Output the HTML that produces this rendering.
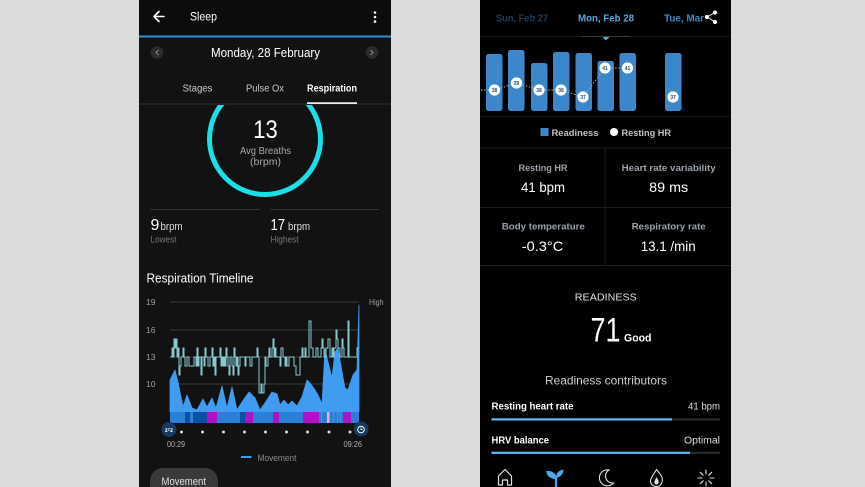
<!DOCTYPE html>
<html><head><meta charset="utf-8"><style>
html,body{margin:0;padding:0;background:#dcdcdc;}
svg{display:block;font-family:"Liberation Sans",sans-serif;}
</style></head><body>
<svg width="865" height="487" viewBox="0 0 865 487" xmlns="http://www.w3.org/2000/svg">
<rect width="865" height="487" fill="#dcdcdc"/>
<!-- LEFT PHONE -->
<rect x="139" y="0" width="252" height="487" fill="#121212"/>
<rect x="139" y="0" width="252" height="36" fill="#0c0c0c"/>
<rect x="139" y="35.5" width="252" height="2" fill="#2f8fd0"/>
<!-- back arrow -->
<path d="M164,16.5 H154 M159,11.5 L154,16.5 L159,21.5" stroke="#fff" stroke-width="1.6" fill="none" stroke-linecap="round" stroke-linejoin="round"/>
<text x="190" y="20.5" font-size="11.5" fill="#fff" textLength="27" lengthAdjust="spacingAndGlyphs">Sleep</text>
<circle cx="375" cy="12.5" r="1.3" fill="#fff"/><circle cx="375" cy="17" r="1.3" fill="#fff"/><circle cx="375" cy="21.5" r="1.3" fill="#fff"/>
<!-- date row -->
<circle cx="157" cy="52.5" r="6.3" fill="#2c2c2c"/>
<path d="M158.5,50 L156,52.5 L158.5,55" stroke="#8a8a8a" stroke-width="1" fill="none"/>
<circle cx="372" cy="52.5" r="6.3" fill="#2c2c2c"/>
<path d="M370.5,50 L373,52.5 L370.5,55" stroke="#8a8a8a" stroke-width="1" fill="none"/>
<text x="265.5" y="57" font-size="12.5" fill="#fff" text-anchor="middle" textLength="109" lengthAdjust="spacingAndGlyphs">Monday, 28 February</text>
<!-- tabs -->
<text x="197.5" y="91.5" font-size="10" fill="#c8c8c8" text-anchor="middle" textLength="30" lengthAdjust="spacingAndGlyphs">Stages</text>
<text x="265" y="91.5" font-size="10" fill="#c8c8c8" text-anchor="middle" textLength="38" lengthAdjust="spacingAndGlyphs">Pulse Ox</text>
<text x="332" y="91.5" font-size="10" fill="#fff" font-weight="bold" text-anchor="middle" textLength="50" lengthAdjust="spacingAndGlyphs">Respiration</text>
<!-- ring (clipped) -->
<defs><clipPath id="ringclip"><rect x="139" y="105" width="252" height="120"/></clipPath></defs>
<circle cx="265" cy="139" r="55.5" fill="none" stroke="#19dfe6" stroke-width="5" clip-path="url(#ringclip)"/>
<rect x="139" y="103.5" width="252" height="1" fill="#333"/>
<rect x="307" y="102.3" width="50" height="1.6" fill="#fff"/>
<text x="265.5" y="138" font-size="25" fill="#fff" text-anchor="middle" textLength="24.5" lengthAdjust="spacingAndGlyphs">13</text>
<text x="265.5" y="154" font-size="10.5" fill="#a8a8a8" text-anchor="middle" textLength="51" lengthAdjust="spacingAndGlyphs">Avg Breaths</text>
<text x="265.5" y="165" font-size="10.5" fill="#a8a8a8" text-anchor="middle">(brpm)</text>
<!-- min/max -->
<rect x="150" y="209" width="110" height="1" fill="#343434"/>
<rect x="270" y="209" width="109" height="1" fill="#343434"/>
<text x="150.5" y="230" font-size="16" fill="#fff">9</text>
<text x="160.5" y="230" font-size="11" fill="#ddd" textLength="22" lengthAdjust="spacingAndGlyphs">brpm</text>
<text x="150.5" y="242.5" font-size="9" fill="#777" textLength="26" lengthAdjust="spacingAndGlyphs">Lowest</text>
<text x="270.5" y="230" font-size="16" fill="#fff" textLength="14.5" lengthAdjust="spacingAndGlyphs">17</text>
<text x="288" y="230" font-size="11" fill="#ddd" textLength="22" lengthAdjust="spacingAndGlyphs">brpm</text>
<text x="270.5" y="242.5" font-size="9" fill="#777" textLength="28" lengthAdjust="spacingAndGlyphs">Highest</text>
<text x="146.5" y="282.5" font-size="12.5" fill="#fff" textLength="107" lengthAdjust="spacingAndGlyphs">Respiration Timeline</text>
<!-- chart gridlines -->
<g stroke="#3a3a3a" stroke-width="1">
<line x1="170" y1="302" x2="359" y2="302"/>
<line x1="170" y1="330" x2="359" y2="330"/>
<line x1="170" y1="357" x2="359" y2="357"/>
<line x1="170" y1="384" x2="359" y2="384"/>
</g>
<g font-size="8.5" fill="#a0a0a0">
<text x="146" y="305">19</text>
<text x="146" y="333">16</text>
<text x="146" y="360">13</text>
<text x="146" y="387">10</text>
<text x="369" y="305" textLength="14.5" lengthAdjust="spacingAndGlyphs">High</text>
</g>
<!-- movement area -->
<path d="M170,412 L170,380 L175,370 L178,382 L183,407 L187,395 L192,408 L197,410 L203,399 L207,407 L212,398 L216,408 L222,386 L227,408 L232,387 L237,410 L242,402 L249,392 L255,398 L260,410 L265,403 L272,392 L277,394 L280,405 L284,400 L288,405 L292,401 L297,406 L302,397 L307,380 L310,383 L315,390 L318,395 L322,404 L325,349 L328,362 L332,378 L335,352 L338,348 L342,372 L345,388 L348,390 L353,375 L357,370 L359,305 L359,412 Z" fill="#3f9cf0" stroke="#3f9cf0" stroke-width="0.8" stroke-linejoin="round"/>
<!-- sleep stages bar -->
<rect x="170" y="412" width="189" height="11" fill="#2a80d8"/>
<g fill="#0b50a8">
<rect x="185" y="412" width="5" height="11"/>
<rect x="193" y="412" width="14" height="11"/>
<rect x="240" y="412" width="5" height="11"/>
</g>
<g fill="#b010c6">
<rect x="207" y="412" width="10" height="11"/>
<rect x="245" y="412" width="8" height="11"/>
<rect x="273" y="412" width="6" height="11"/>
<rect x="303" y="412" width="16" height="11"/>
<rect x="343" y="412" width="8" height="11"/>
</g>
<rect x="327" y="412" width="2.5" height="11" fill="#f0a8ee"/>
<g fill="#4a90e0"><rect x="321" y="412" width="1" height="11"/><rect x="333" y="412" width="1" height="11"/><rect x="337" y="412" width="1" height="11"/><rect x="340" y="412" width="1" height="11"/></g>
<!-- respiration step line -->
<path d="M170,357 H172 V348 H173 V357 H174 V339 H175 V348 H176 V339 H177 V357 H178 V348 H179 V375 H180 V366 H181 V357 H183 V348 H184 V357 H185 V366 H187 V357 H189 V366 H194 V357 H196 V366 H197 V348 H198 V366 H199 V357 H201 V375 H202 V357 H204 V366 H205 V348 H206 V357 H208 V366 H210 V357 H212 V348 H213 V366 H214 V357 H215 V375 H216 V357 H220 V348 H221 V366 H222 V357 H223 V366 H224 V357 H225 V366 H226 V348 H227 V357 H228 V366 H229 V375 H230 V357 H232 V366 H233 V375 H234 V348 H235 V357 H236 V366 H237 V357 H238 V375 H239 V366 H240 V357 H245 V366 H246 V357 H250 V366 H252 V357 H257 V348 H258 V357 H259 V393 H261 V384 H262 V393 H264 V384 H265 V357 H266 V366 H268 V357 H269 V348 H270 V357 H272 V348 H273 V339 H274 V357 H275 V348 H276 V357 H280 V366 H281 V348 H283 V357 H285 V366 H286 V357 H287 V366 H289 V357 H294 V366 H296 V375 H300 V357 H302 V348 H303 V357 H305 V348 H306 V357 H309 V321 H311 V348 H313 V357 H316 V348 H318 V357 H321 V348 H322 V339 H323 V348 H324 V357 H326 V348 H328 V339 H330 V357 H332 V348 H333 V357 H334 V348 H336 V330 H337 V339 H338 V348 H340 V357 H342 V339 H343 V348 H344 V357 H348 V321 H349 V357 H357 V348 H359" fill="none" stroke="#88c8cf" stroke-width="1"/>
<!-- x axis icons and dots -->
<circle cx="169" cy="429.5" r="7.5" fill="#163a60"/>
<text x="169" y="432" font-size="6" fill="#fff" font-weight="bold" text-anchor="middle">zᶻz</text>
<circle cx="361" cy="429" r="7.5" fill="#163a60"/>
<circle cx="361" cy="429.5" r="3.3" fill="none" stroke="#fff" stroke-width="1"/>
<path d="M361,427.5 V429.5 H362.5" stroke="#fff" stroke-width="0.8" fill="none"/>
<g fill="#d8d8d8">
<circle cx="181.5" cy="432" r="1.5"/><circle cx="202.5" cy="432" r="1.5"/><circle cx="223.5" cy="432" r="1.5"/><circle cx="244.5" cy="432" r="1.5"/><circle cx="265.5" cy="432" r="1.5"/><circle cx="286.5" cy="432" r="1.5"/><circle cx="307.5" cy="432" r="1.5"/><circle cx="329" cy="432" r="1.5"/><circle cx="350" cy="432" r="1.5"/>
</g>
<text x="167" y="447" font-size="8" fill="#b0b0b0" textLength="18" lengthAdjust="spacingAndGlyphs">00:29</text>
<text x="343.5" y="447" font-size="8" fill="#b0b0b0" textLength="18.5" lengthAdjust="spacingAndGlyphs">09:26</text>
<rect x="241" y="456" width="10.5" height="2" fill="#3f9cf0"/>
<text x="257.5" y="461" font-size="9.5" fill="#8a8a8a" textLength="39" lengthAdjust="spacingAndGlyphs">Movement</text>
<rect x="150" y="468" width="68" height="30" rx="13" fill="#3a3a3a"/>
<text x="161.5" y="485" font-size="11" fill="#e0e0e0" textLength="44.5" lengthAdjust="spacingAndGlyphs">Movement</text>

<!-- RIGHT PHONE -->
<rect x="480" y="0" width="251" height="487" fill="#000"/>
<text x="496" y="21.5" font-size="10" font-weight="bold" fill="#1e3d5c" textLength="52" lengthAdjust="spacingAndGlyphs">Sun, Feb 27</text>
<text x="578" y="21.5" font-size="10" font-weight="bold" fill="#5aa6dc" textLength="56" lengthAdjust="spacingAndGlyphs">Mon, Feb 28</text>
<text x="664" y="21.5" font-size="10" font-weight="bold" fill="#3f86c4" textLength="40" lengthAdjust="spacingAndGlyphs">Tue, Mar</text>
<!-- share icon -->
<g stroke="#fff" stroke-width="1" fill="#fff">
<line x1="707" y1="17" x2="715" y2="12.5"/><line x1="707" y1="17" x2="715" y2="22"/>
<circle cx="707" cy="17" r="1.6"/><circle cx="715" cy="12.5" r="1.6"/><circle cx="715" cy="22" r="1.6"/>
</g>
<rect x="480" y="36" width="251" height="1" fill="#161616"/>
<rect x="582" y="36" width="48" height="1" fill="#3a3a3a"/>
<path d="M602.5,37 L609.5,37 L606,40.5 Z" fill="#5aa6dc"/>
<!-- bars -->
<g fill="#3b87c9">
<rect x="486" y="54" width="16.5" height="57" rx="2.5"/>
<rect x="508" y="50" width="16.5" height="61" rx="2.5"/>
<rect x="531" y="63" width="16.5" height="48" rx="2.5"/>
<rect x="553" y="52" width="16.5" height="59" rx="2.5"/>
<rect x="575.5" y="53" width="16.5" height="58" rx="2.5"/>
<rect x="597.5" y="61" width="16.5" height="50" rx="2.5"/>
<rect x="619.5" y="53" width="16.5" height="58" rx="2.5"/>
<rect x="665" y="53" width="16.5" height="58" rx="2.5"/>
</g>
<polyline points="481,90 494.5,90 516.5,83 539,90 561,90 583,97 605,68 627.5,68" fill="none" stroke="#b8b8b8" stroke-width="0.9" stroke-dasharray="1.5,1.8"/>
<g fill="#fff">
<circle cx="494.5" cy="90" r="5.6"/><circle cx="516.5" cy="83" r="5.6"/><circle cx="539" cy="90" r="5.6"/><circle cx="561" cy="90" r="5.6"/><circle cx="583" cy="97" r="5.6"/><circle cx="605" cy="68" r="5.6"/><circle cx="627.5" cy="68" r="5.6"/><circle cx="673" cy="97" r="5.6"/>
</g>
<g font-size="5" font-weight="bold" fill="#2a4f78" text-anchor="middle">
<text x="494.5" y="91.8">38</text><text x="516.5" y="84.8">39</text><text x="539" y="91.8">38</text><text x="561" y="91.8">38</text><text x="583" y="98.8">37</text><text x="605" y="69.8">41</text><text x="627.5" y="69.8">41</text><text x="673" y="98.8">37</text>
</g>
<rect x="480" y="116" width="251" height="1" fill="#141414"/>
<!-- legend -->
<rect x="540.5" y="128" width="8" height="8" fill="#3b87c9"/>
<text x="551.5" y="136" font-size="9.5" fill="#c0c0c0" font-weight="bold" textLength="47" lengthAdjust="spacingAndGlyphs">Readiness</text>
<circle cx="614" cy="132" r="4" fill="#fff"/>
<text x="621.5" y="136" font-size="9.5" fill="#c0c0c0" font-weight="bold" textLength="49.5" lengthAdjust="spacingAndGlyphs">Resting HR</text>
<!-- grid -->
<g fill="#1c1c1c">
<rect x="480" y="147.5" width="251" height="1"/>
<rect x="480" y="207" width="251" height="1"/>
<rect x="480" y="265" width="251" height="1"/>
<rect x="604.5" y="148" width="1" height="117"/>
</g>
<g font-size="9.5" font-weight="bold" fill="#9aa2ab" text-anchor="middle">
<text x="543" y="171" textLength="49" lengthAdjust="spacingAndGlyphs">Resting HR</text>
<text x="668.7" y="171" textLength="94" lengthAdjust="spacingAndGlyphs">Heart rate variability</text>
<text x="543.3" y="229.5" textLength="83" lengthAdjust="spacingAndGlyphs">Body temperature</text>
<text x="668.7" y="229.5" textLength="74" lengthAdjust="spacingAndGlyphs">Respiratory rate</text>
</g>
<g font-size="14" fill="#fff" text-anchor="middle">
<text x="543" y="192" textLength="44" lengthAdjust="spacingAndGlyphs">41 bpm</text>
<text x="668.7" y="192" textLength="39" lengthAdjust="spacingAndGlyphs">89 ms</text>
<text x="542.5" y="251" textLength="41.5" lengthAdjust="spacingAndGlyphs">-0.3°C</text>
<text x="668.2" y="251" textLength="55" lengthAdjust="spacingAndGlyphs">13.1 /min</text>
</g>
<!-- readiness -->
<text x="605.8" y="300.5" font-size="10.5" fill="#e0e0e0" text-anchor="middle" textLength="62" lengthAdjust="spacingAndGlyphs">READINESS</text>
<text x="590.5" y="341.7" font-size="34" fill="#fff" textLength="30" lengthAdjust="spacingAndGlyphs">71</text>
<text x="624" y="341.5" font-size="11" font-weight="bold" fill="#fff" textLength="27.5" lengthAdjust="spacingAndGlyphs">Good</text>
<text x="606" y="384.5" font-size="12" fill="#cfcfcf" text-anchor="middle" textLength="122" lengthAdjust="spacingAndGlyphs">Readiness contributors</text>
<text x="491.5" y="409.5" font-size="10" font-weight="bold" fill="#fff" textLength="82" lengthAdjust="spacingAndGlyphs">Resting heart rate</text>
<text x="720" y="409.5" font-size="10" fill="#ddd" text-anchor="end" textLength="32" lengthAdjust="spacingAndGlyphs">41 bpm</text>
<rect x="491.5" y="418.3" width="228.5" height="2.2" fill="#2a2a2a"/>
<rect x="491.5" y="418.3" width="180.5" height="2.2" fill="#5cb8f0"/>
<text x="491.5" y="443.5" font-size="10" font-weight="bold" fill="#fff" textLength="57.5" lengthAdjust="spacingAndGlyphs">HRV balance</text>
<text x="720" y="443.5" font-size="10" fill="#ddd" text-anchor="end" textLength="36" lengthAdjust="spacingAndGlyphs">Optimal</text>
<rect x="491.5" y="451.7" width="228.5" height="2.2" fill="#2a2a2a"/>
<rect x="491.5" y="451.7" width="198.5" height="2.2" fill="#5cb8f0"/>
<!-- nav icons -->
<path d="M498.5,485 V476 L505,469.5 L511.5,476 V485 H507.5 V480 H502.5 V485 Z" fill="none" stroke="#e0e0e0" stroke-width="1.2" stroke-linejoin="round"/>
<g fill="#4aa8e8">
<path d="M556,487 V478 M556,478 C552,478 548,476 547.5,472 C551.5,472 555,474 556,478 Z" stroke="#4aa8e8" stroke-width="2.2"/>
<path d="M556,478 C556,473 559,470 563.5,469.5 C563.5,474 560.5,477 556,478 Z"/>
</g>
<path d="M609,470 A8,8 0 1,0 613.5,483 A7,7 0 0,1 609,470 Z" fill="none" stroke="#e0e0e0" stroke-width="1.1"/>
<path d="M656.5,469.5 C660,474 663.5,477 662,482 C661,485.5 658.5,486.5 656.5,486.5 C653.5,486.5 650.5,484.5 650.5,481 C650.5,477.5 654,474 656.5,469.5 Z" fill="none" stroke="#e0e0e0" stroke-width="1.1"/>
<path d="M656.5,477 C658,479.5 659,481 658.5,483 C658,485 655,485 654.5,483 C654,481 655.5,479.5 656.5,477 Z" fill="#e0e0e0"/>
<g stroke="#e0e0e0" stroke-width="1.1" stroke-linecap="round">
<line x1="706" y1="470" x2="706" y2="474"/><line x1="706" y1="482" x2="706" y2="486"/>
<line x1="698" y1="478" x2="702" y2="478"/><line x1="710" y1="478" x2="714" y2="478"/>
<line x1="700.3" y1="472.3" x2="703.2" y2="475.2"/><line x1="708.8" y1="480.8" x2="711.7" y2="483.7"/>
<line x1="711.7" y1="472.3" x2="708.8" y2="475.2"/><line x1="703.2" y1="480.8" x2="700.3" y2="483.7"/>
</g>
</svg>
</body></html>
